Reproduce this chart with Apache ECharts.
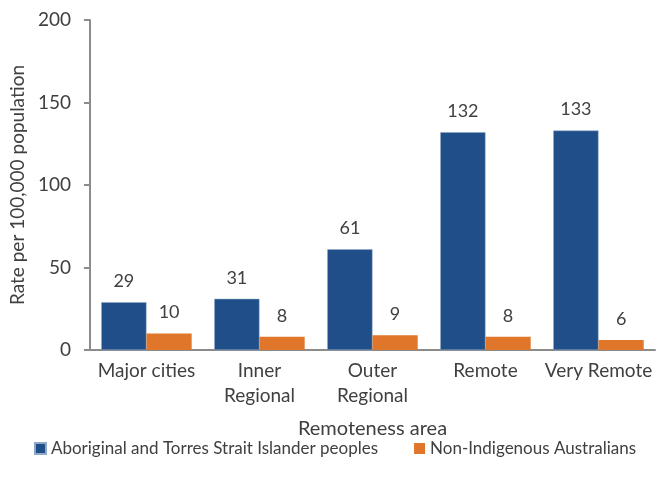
<!DOCTYPE html>
<html lang="en">

<head>
    <meta charset="UTF-8">
    <title>Rate by remoteness area</title>
    <style>
        * {
            margin: 0;
            padding: 0;
            box-sizing: border-box;
        }

        html,
        body {
            height: 100%;
            background: #fff;
        }

        #box {
            width: 670px;
            height: 484px;
        }
    </style>
    <script src="https://cdn.jsdelivr.net/npm/echarts@6/dist/echarts.min.js"></script>
</head>

<body>
    <div id="box"></div>

    <script>
        // data
        var categories = ['Major cities', 'Inner\nRegional', 'Outer\nRegional', 'Remote', 'Very Remote'];
        var indigenous = [29, 31, 61, 132, 133];
        var nonIndigenous = [10, 8, 9, 8, 6];
        var seriesNames = ['Aboriginal and Torres Strait Islander peoples', 'Non-Indigenous Australians'];

        var textColor = '#404040';
        var axisColor = '#8c8c8c';
        var font = 'Lato, "Noto Sans", sans-serif';

        var myChart = echarts.init(document.getElementById('box'));

        var barLabel = {
            show: true,
            position: 'top',
            distance: 12,
            color: textColor,
            fontFamily: font,
            fontSize: 18
        };

        myChart.setOption({
            animation: false,
            textStyle: { fontFamily: font, color: textColor },
            grid: {
                left: 89,
                right: 15,
                top: 20,
                bottom: 134
            },
            legend: {
                bottom: 22,
                left: 'center',
                itemWidth: 11,
                itemHeight: 11,
                itemGap: 36,
                icon: 'rect',
                textStyle: { fontSize: 17, color: textColor, fontFamily: font },
                data: seriesNames
            },
            xAxis: {
                type: 'category',
                data: categories,
                name: 'Remoteness area',
                nameLocation: 'middle',
                nameGap: 69,
                nameTextStyle: { fontSize: 20, color: textColor },
                axisLine: { lineStyle: { color: axisColor, width: 2 } },
                axisTick: { length: 6, lineStyle: { color: axisColor, width: 2 } },
                axisLabel: {
                    color: textColor,
                    fontSize: 19,
                    lineHeight: 25,
                    margin: 8,
                    interval: 0
                }
            },
            yAxis: {
                type: 'value',
                min: 0,
                max: 200,
                interval: 50,
                name: 'Rate per 100,000 population',
                nameLocation: 'middle',
                nameGap: 53,
                nameTextStyle: { fontSize: 19, color: textColor },
                splitLine: { show: false },
                axisLine: { show: true, lineStyle: { color: axisColor, width: 2 } },
                axisTick: { show: true, length: 6, lineStyle: { color: axisColor, width: 2 } },
                axisLabel: { color: textColor, fontSize: 19, margin: 19 }
            },
            series: [
                {
                    name: seriesNames[0],
                    type: 'bar',
                    data: indigenous,
                    barGap: '0%',
                    barCategoryGap: '20%',
                    itemStyle: { color: '#1f4e89', borderColor: '#8fa8c8', borderWidth: 0.5 },
                    label: barLabel
                },
                {
                    name: seriesNames[1],
                    type: 'bar',
                    data: nonIndigenous,
                    itemStyle: { color: '#e07629' },
                    label: barLabel
                }
            ]
        });

        window.onresize = function () {
            myChart.resize();
        }
    </script>
</body>

</html>
